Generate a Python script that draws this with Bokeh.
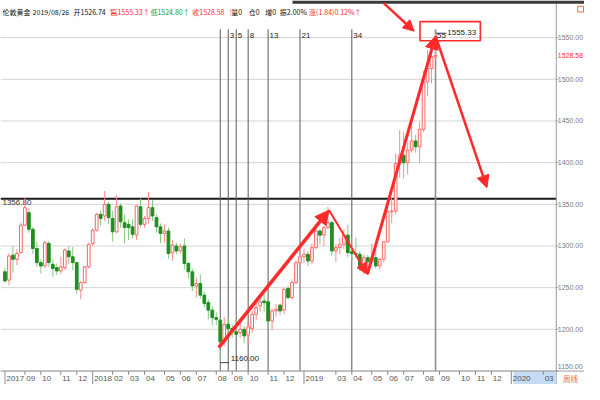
import numpy as np
from bokeh.plotting import figure
from bokeh.models import ColumnDataSource, Range1d, Arrow, NormalHead
from bokeh.core.properties import value
from bokeh.embed import file_html
from bokeh.resources import INLINE

# ---------------- data (weekly London gold, week index 0 = 2017-07-31) ----------------
opens = [1269, 1259, 1289, 1284, 1292, 1325, 1340, 1320, 1297, 1280,
         1276, 1303, 1278, 1274, 1270, 1274, 1294, 1287, 1280, 1247,
         1256, 1275, 1303, 1319, 1338, 1336, 1350, 1333, 1317, 1348,
         1328, 1326, 1323, 1313, 1347, 1326, 1333, 1346, 1334, 1323,
         1315, 1318, 1292, 1300, 1294, 1300, 1279, 1269, 1252, 1255,
         1241, 1232, 1223, 1214, 1211, 1185, 1206, 1201, 1197, 1196,
         1200, 1193, 1201, 1218, 1228, 1234, 1233, 1210, 1222, 1229,
         1223, 1249, 1238, 1256, 1280, 1287, 1290, 1282, 1298, 1318,
         1313, 1322, 1328, 1294, 1298, 1302, 1313, 1293, 1291, 1290,
         1276, 1286, 1281, 1286, 1276, 1284, 1305, 1341, 1342, 1399,
         1409, 1400, 1415, 1426, 1419, 1440, 1497, 1513, 1526.74]
highs = [1274, 1291, 1300, 1296, 1328, 1358, 1345, 1323, 1305, 1284,
         1306, 1306, 1284, 1279, 1287, 1297, 1300, 1299, 1281, 1258,
         1276, 1304, 1321, 1340, 1343, 1366, 1353, 1342, 1361, 1351,
         1338, 1332, 1332, 1349, 1357, 1336, 1365, 1355, 1338, 1327,
         1326, 1322, 1307, 1304, 1303, 1309, 1281, 1273, 1262, 1266,
         1245, 1236, 1228, 1220, 1213, 1215, 1214, 1206, 1212, 1212,
         1204, 1208, 1222, 1233, 1243, 1244, 1237, 1225, 1230, 1231,
         1250, 1252, 1260, 1283, 1298, 1297, 1294, 1303, 1326, 1320,
         1324, 1347, 1330, 1302, 1310, 1320, 1325, 1300, 1310, 1294,
         1290, 1289, 1303, 1302, 1286, 1306, 1348, 1358, 1411, 1439,
         1437, 1424, 1453, 1433, 1449, 1510, 1535, 1531, 1555.33]
lows = [1256, 1253, 1268, 1277, 1291, 1324, 1316, 1290, 1275, 1267,
        1274, 1275, 1263, 1265, 1266, 1271, 1278, 1271, 1243, 1236,
        1255, 1273, 1300, 1317, 1324, 1330, 1326, 1305, 1315, 1322,
        1303, 1307, 1309, 1307, 1322, 1322, 1327, 1330, 1316, 1303,
        1304, 1285, 1282, 1290, 1291, 1272, 1261, 1246, 1238, 1237,
        1226, 1212, 1205, 1205, 1160, 1180, 1195, 1190, 1193, 1190,
        1183, 1182, 1196, 1211, 1221, 1221, 1204, 1199, 1215, 1217,
        1218, 1236, 1236, 1254, 1276, 1280, 1276, 1278, 1296, 1302,
        1300, 1320, 1288, 1281, 1290, 1296, 1287, 1282, 1286, 1270,
        1266, 1268, 1279, 1273, 1272, 1280, 1305, 1327, 1338, 1382,
        1381, 1386, 1412, 1412, 1400, 1437, 1480, 1495, 1524.80]
closes = [1258, 1288, 1284, 1291, 1325, 1346, 1320, 1297, 1280, 1276,
          1304, 1280, 1273, 1270, 1275, 1295, 1287, 1280, 1248, 1256,
          1275, 1302, 1319, 1338, 1333, 1350, 1334, 1317, 1347, 1329,
          1322, 1322, 1314, 1348, 1326, 1333, 1346, 1336, 1323, 1315,
          1318, 1291, 1301, 1294, 1299, 1279, 1269, 1252, 1255, 1241,
          1231, 1223, 1214, 1212, 1185, 1206, 1201, 1197, 1194, 1200,
          1192, 1203, 1218, 1226, 1233, 1232, 1210, 1222, 1224, 1222,
          1248, 1238, 1256, 1280, 1287, 1290, 1282, 1298, 1318, 1313,
          1322, 1328, 1294, 1298, 1302, 1313, 1292, 1291, 1290, 1276,
          1286, 1281, 1286, 1276, 1284, 1305, 1341, 1342, 1399, 1409,
          1400, 1415, 1426, 1419, 1440, 1497, 1513, 1527, 1528.58]

price_ticks = [1150, 1200, 1250, 1300, 1350, 1400, 1450, 1500, 1550]
price_tick_labels = ["1150.00", "1200.00", "1250.00", "1300.00", "1350.00",
                     "1400.00", "1450.00", "1500.00", "1550.00"]
date_labels = ["2017", "09", "10", "11", "12", "2018", "02", "03", "04", "05", "06", "07",
               "08", "09", "10", "11", "12", "2019", "03", "04", "05", "06", "07", "08",
               "09", "10", "11", "12", "2020", "03"]
date_week = [0, 5, 9, 14, 18, 22, 27, 31, 35, 40, 44, 48, 53, 57, 61, 66, 70, 75, 83, 87,
             92, 96, 100, 105, 109, 114, 118, 122, 127, 135]
year_label_flags = [1, 0, 0, 0, 0, 1, 0, 0, 0, 0, 0, 0, 0, 0, 0, 0, 0, 1, 0, 0,
                    0, 0, 0, 0, 0, 0, 0, 0, 1, 0]

fib_start_week = 53
fib_steps = [1, 3, 5, 8, 13, 21, 34, 55]
fib_labels = ["", "3", "5", "8", "13", "21", "34", "55"]

support_level = 1356.80
low_week, low_price = 54, 1160.00
high_week, high_price = 108, 1555.33
last_close = 1528.58

# wave path drawn with the red arrows (week index, price)
wave_week = [53.6, 81.3, 90.9, 108.0, 120.9]
wave_price = [1178, 1343, 1266, 1552, 1370]

# ---------------- layout helpers (reference-pixel -> data) ----------------
def xr(px):
    return (px - 4.6) / 4.096

def yr(py):
    return 1350 - (py - 212.3) / 0.868

def dx(px):
    return px / 4.096

RED = "#ff2a2a"
GREEN = "#1f8f1f"
FONT = value("Noto Sans CJK SC")
NUMFONT = value("Liberation Sans")

p = figure(width=584, height=384, output_backend="svg", toolbar_location=None,
           x_range=Range1d(xr(0), xr(600)), y_range=Range1d(yr(400), yr(0)),
           x_axis_location=None, y_axis_location=None, min_border=0)
p.min_border_left = p.min_border_right = p.min_border_top = p.min_border_bottom = 0
p.grid.visible = False
p.outline_line_color = None
p.background_fill_color = "white"
p.border_fill_color = "white"

# horizontal grid lines
p.segment(x0=[xr(0)] * len(price_ticks), x1=[xr(571)] * len(price_ticks),
          y0=price_ticks, y1=price_ticks, line_color="#d4d4d4", line_width=1)

# support line
p.segment(x0=[xr(0)], x1=[xr(571)], y0=[support_level], y1=[support_level],
          line_color="#1a1a1a", line_width=2)
p.text(x=[xr(2)], y=[support_level], text=["%.2f" % support_level], text_font=NUMFONT,
       text_font_size=value("8px"), text_color="#333333", text_baseline="top",
       text_align="left", y_offset=1)

# Fibonacci time zones
fib_x = [fib_start_week + n for n in fib_steps]
fib_col = ["#5a5a5a"] * (len(fib_x) - 1) + ["#8f8f8f"]
fib_w = [1] * (len(fib_x) - 1) + [1.6]
p.segment(x0=fib_x, x1=fib_x, y0=[yr(30)] * len(fib_x), y1=[yr(386)] * len(fib_x),
          line_color=fib_col, line_width=fib_w)
p.text(x=[v + dx(1.5) for v in fib_x], y=[yr(36)] * len(fib_x), text=fib_labels,
       text_font=NUMFONT, text_font_size=value("8px"), text_color="#222222",
       text_baseline="middle", text_align="left")

# candles
idx = np.arange(len(closes))
o = np.array(opens, dtype=float)
c = np.array(closes, dtype=float)
h = np.array(highs, dtype=float)
l = np.array(lows, dtype=float)
up = c >= o
dn = ~up
p.segment(x0=idx[up], x1=idx[up], y0=l[up], y1=h[up], line_color="#ff8c8c", line_width=1)
p.segment(x0=idx[dn], x1=idx[dn], y0=l[dn], y1=h[dn], line_color="#86c986", line_width=1)
p.vbar(x=idx[up], width=0.68, bottom=o[up], top=np.maximum(c[up], o[up] + 0.8),
       fill_color="white", line_color="#ff6464", line_width=1)
p.vbar(x=idx[dn], width=0.68, bottom=c[dn], top=o[dn],
       fill_color=GREEN, line_color=GREEN, line_width=1)

# low marker
p.segment(x0=[low_week], x1=[xr(235)], y0=[low_price], y1=[low_price], line_color="#444444", line_width=1)
p.text(x=[xr(236.5)], y=[low_price], text=["%.2f" % low_price], text_font=NUMFONT,
       text_font_size=value("8px"), text_color="#222222", text_baseline="middle",
       text_align="left", y_offset=-4)

# high marker + red box
p.segment(x0=[high_week], x1=[xr(458)], y0=[high_price], y1=[high_price], line_color="#444444", line_width=1)
p.text(x=[xr(459)], y=[high_price], text=["%.2f" % high_price], text_font=NUMFONT,
       text_font_size=value("8px"), text_color="#222222", text_baseline="middle",
       text_align="left", y_offset=-1)
p.quad(left=[xr(431)], right=[xr(493)], bottom=[yr(42)], top=[yr(22)],
       fill_color=None, line_color=RED, line_width=1.6)

# arrows
def add_arrow(x0, y0, x1, y1, w, size):
    p.add_layout(Arrow(end=NormalHead(size=size, fill_color=RED, line_color=RED, line_width=1),
                       x_start=x0, y_start=y0, x_end=x1, y_end=y1,
                       line_color=RED, line_width=w))

add_arrow(wave_week[0], wave_price[0], wave_week[1], wave_price[1], 3.5, 14)
add_arrow(wave_week[1], wave_price[1], wave_week[2], wave_price[2], 2, 11)
add_arrow(wave_week[2], wave_price[2], wave_week[3], wave_price[3], 3, 13)
add_arrow(wave_week[3], wave_price[3], wave_week[4], wave_price[4], 2.5, 12)
add_arrow(xr(394), yr(3), xr(425), yr(32), 2.5, 11)

# right price axis
p.segment(x0=[xr(571)], x1=[xr(571)], y0=[yr(0)], y1=[yr(400)], line_color="#9a9a9a", line_width=1)
p.segment(x0=[xr(571)] * len(price_ticks), x1=[xr(573)] * len(price_ticks),
          y0=price_ticks, y1=price_ticks, line_color="#9a9a9a", line_width=1)
label_off = [-4] + [0] * (len(price_ticks) - 1)
p.text(x=[xr(572.6)] * len(price_ticks), y=price_ticks, text=price_tick_labels,
       text_font=NUMFONT, text_font_size=value("7px"), text_color="#7a7a7a",
       text_baseline="middle", text_align="left", y_offset=label_off)
p.text(x=[xr(572.6)], y=[last_close], text=["%.2f" % last_close], text_font=NUMFONT,
       text_font_size=value("7px"), text_color="#ff3030", text_baseline="middle", text_align="left")

# bottom date row
p.quad(left=[xr(527)], right=[xr(571)], bottom=[yr(400)], top=[yr(386)],
       fill_color="#c6dcf4", line_color=None)
p.segment(x0=[xr(0)], x1=[xr(600)], y0=[yr(386)], y1=[yr(386)], line_color="#9a9a9a", line_width=1)
tick_top = [yr(386)] * len(date_week)
tick_bot = [yr(400) if f else yr(390) for f in year_label_flags]
p.segment(x0=date_week, x1=date_week, y0=tick_top, y1=tick_bot, line_color="#8a8a8a", line_width=1)
p.text(x=[w + dx(1.5) for w in date_week], y=[yr(393.5)] * len(date_week), text=date_labels,
       text_font=NUMFONT, text_font_size=value("8px"), text_color="#555555",
       text_baseline="middle", text_align="left")
p.text(x=[xr(578)], y=[yr(393.5)], text=["周线"], text_font=FONT, text_font_size=value("7.5px"),
       text_color="#f06a28", text_baseline="middle", text_align="left")

# header line
p.quad(left=[xr(300)], right=[xr(600)], bottom=[yr(3.5)], top=[yr(0)], fill_color="#3a3a3a", line_color=None)
p.quad(left=[xr(593)], right=[xr(599)], bottom=[yr(12)], top=[yr(6)], fill_color=None,
       line_color="#f07030", line_width=1)
hdr_x = [2, 33, 75, 110.5, 113, 154, 197, 233, 237, 255, 272, 287, 317]
hdr_t = ["伦敦黄金", "2019/08/26", "开1526.74", "↑", "高1555.33↑", "低1524.80↑", "收1528.58", "↑",
         "量0", "仓0", "增0", "振2.00%", "涨(1.84)0.12%↑"]
hdr_c = ["#111111", "#111111", "#111111", RED, RED, "#1a9a1a", RED, "#ff8080",
         "#111111", "#111111", "#111111", "#111111", RED]
p.text(x=[xr(v) for v in hdr_x], y=[yr(12)] * len(hdr_x), text=hdr_t, text_color=hdr_c,
       text_font=FONT, text_font_size=value("7px"), text_baseline="middle", text_align="left")

open("out.html", "w").write(file_html(p, INLINE))
